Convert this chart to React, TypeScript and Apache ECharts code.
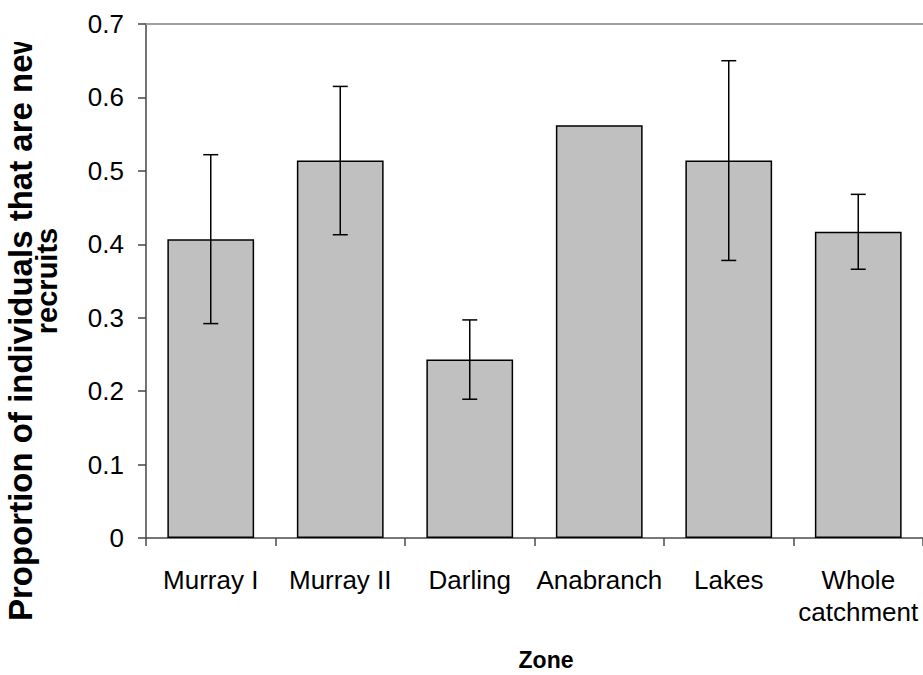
import { useEffect, useRef } from 'react';
import * as echarts from 'echarts';

// Zones sampled and the proportion of individuals that are new recruits
const zones = ['Murray I', 'Murray II', 'Darling', 'Anabranch', 'Lakes', 'Whole\ncatchment'];
const proportions = [0.407, 0.514, 0.243, 0.562, 0.514, 0.417];
// Half-width of each error bar (Anabranch has none)
const errors: (number | null)[] = [0.115, 0.101, 0.054, null, 0.136, 0.051];

const yAxisTitleLines = ['Proportion of individuals that are new', 'recruits'];
const xAxisTitle = 'Zone';

const FONT = '"Liberation Sans", Arial, sans-serif';

export default function App() {
  const ref = useRef<HTMLDivElement>(null);

  useEffect(() => {
    document.body.style.margin = '0';
    if (!ref.current) return;
    const chart = echarts.init(ref.current, null, { renderer: 'svg' });

    const errorData = errors
      .map((e, i) => (e == null ? null : [i, proportions[i] - e, proportions[i] + e]))
      .filter((d) => d !== null) as number[][];

    chart.setOption({
      animation: false,
      backgroundColor: '#ffffff',
      grid: { left: 146, right: -2, top: 24, bottom: 137 },
      xAxis: [
        {
          type: 'category',
          data: zones,
          position: 'bottom',
          boundaryGap: true,
          axisLine: { lineStyle: { color: '#4a4a4a', width: 1.5 } },
          axisTick: { show: true, alignWithLabel: false, length: 8, lineStyle: { color: '#4a4a4a', width: 1.5 } },
          axisLabel: {
            color: '#000000',
            fontFamily: FONT,
            fontSize: 26,
            margin: 26,
            lineHeight: 32,
            interval: 0,
          },
        },
        {
          type: 'category',
          data: zones,
          position: 'top',
          axisLine: { lineStyle: { color: '#a0a0a0', width: 2 } },
          axisTick: { show: false },
          axisLabel: { show: false },
        },
      ],
      yAxis: {
        type: 'value',
        min: 0,
        max: 0.7,
        interval: 0.1,
        splitLine: { show: false },
        axisLine: { show: true, lineStyle: { color: '#444444', width: 1.5 } },
        axisTick: { show: true, length: 8, lineStyle: { color: '#444444', width: 1.5 } },
        axisLabel: {
          color: '#000000',
          fontFamily: FONT,
          fontSize: 26,
          margin: 22,
          formatter: (v: number) => String(Number(v.toFixed(1))),
        },
      },
      series: [
        {
          type: 'bar',
          data: proportions,
          barWidth: '67%',
          itemStyle: { color: '#c0c0c0', borderColor: '#000000', borderWidth: 1.5 },
        },
        {
          type: 'custom',
          data: errorData,
          z: 5,
          renderItem: (params: any, api: any) => {
            const i = api.value(0);
            const lo = api.coord([i, api.value(1)]);
            const hi = api.coord([i, api.value(2)]);
            const half = 7.5;
            const style = { stroke: '#000000', lineWidth: 1.5 };
            return {
              type: 'group',
              children: [
                { type: 'line', shape: { x1: hi[0], y1: hi[1], x2: lo[0], y2: lo[1] }, style },
                { type: 'line', shape: { x1: hi[0] - half, y1: hi[1], x2: hi[0] + half, y2: hi[1] }, style },
                { type: 'line', shape: { x1: lo[0] - half, y1: lo[1], x2: lo[0] + half, y2: lo[1] }, style },
              ],
            };
          },
        },
      ],
      graphic: [
        {
          type: 'text',
          x: 20,
          y: 621,
          rotation: Math.PI / 2,
          style: {
            text: yAxisTitleLines[0],
            fontFamily: FONT,
            fontSize: 33,
            fontWeight: 'bold',
            fill: '#000000',
            align: 'left',
            verticalAlign: 'middle',
          },
        },
        {
          type: 'text',
          x: 47,
          y: 281,
          rotation: Math.PI / 2,
          style: {
            text: yAxisTitleLines[1],
            fontFamily: FONT,
            fontSize: 29,
            fontWeight: 'bold',
            fill: '#000000',
            align: 'center',
            verticalAlign: 'middle',
          },
        },
        {
          // title box edge: the first title line is cut off here
          type: 'rect',
          shape: { x: 0, y: 0, width: 70, height: 42 },
          style: { fill: '#ffffff' },
          z: 100,
        },
        {
          type: 'text',
          x: 546,
          y: 660,
          style: {
            text: xAxisTitle,
            fontFamily: FONT,
            fontSize: 23,
            fontWeight: 'bold',
            fill: '#000000',
            align: 'center',
            verticalAlign: 'middle',
          },
        },
      ],
    });

    return () => chart.dispose();
  }, []);

  return <div ref={ref} style={{ width: 923, height: 675 }} />;
}
